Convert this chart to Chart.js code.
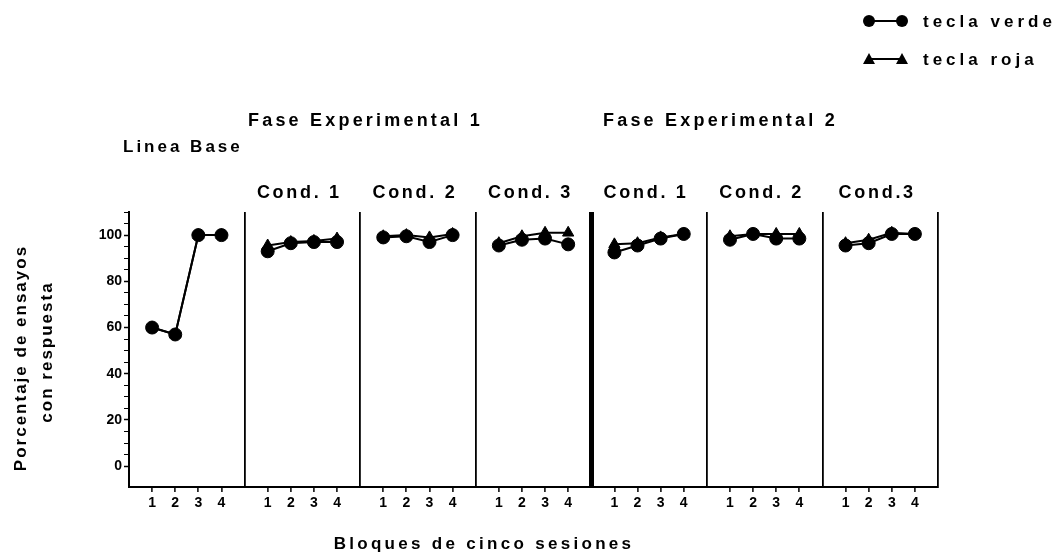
<!DOCTYPE html>
<html>
<head>
<meta charset="utf-8">
<script src="https://cdn.jsdelivr.net/npm/chart.js@4"></script>
<style>
  body { margin: 0; background: #fff; }
  #wrap { position: relative; width: 1062px; height: 557px; overflow: hidden; font-family: "Liberation Sans", Arial, sans-serif; font-weight: bold; color: #000; }
  #wrap canvas { position: absolute; left: 0; top: 0; }
  .lbl { position: absolute; white-space: nowrap; line-height: 1; }
  .c { transform: translateX(-50%); }
  .cond { font-size: 18px; letter-spacing: 2.7px; top: 183px; }
  .fase { font-size: 18px; letter-spacing: 3.2px; top: 111px; }
  .leg { font-size: 17px; letter-spacing: 4px; left: 923px; }
  .mk { position: absolute; left: 863px; width: 45px; height: 12px; }
  .mk .ln { position: absolute; left: 6px; right: 6px; top: 5px; border-top: 2px solid #000; }
  .dot { position: absolute; top: 0; width: 12px; height: 12px; border-radius: 50%; background: #000; }
  .tri { position: absolute; top: 0; width: 0; height: 0; border-left: 6px solid transparent; border-right: 6px solid transparent; border-bottom: 11px solid #000; }
  .ytitle { position: absolute; font-size: 17px; letter-spacing: 2px; transform: translate(-50%, -50%) rotate(-90deg); white-space: nowrap; }
</style>
</head>
<body>
<div id="wrap">
  <canvas id="chart" width="1062" height="557"></canvas>

  <div class="mk" style="top:15px"><div class="ln"></div><div class="dot" style="left:0"></div><div class="dot" style="right:0"></div></div>
  <div class="lbl leg" style="top:13px">tecla verde</div>
  <div class="mk" style="top:53px"><div class="ln"></div><div class="tri" style="left:0"></div><div class="tri" style="right:0"></div></div>
  <div class="lbl leg" style="top:51px">tecla roja</div>

  <div class="lbl fase" style="left:248px">Fase Experimental 1</div>
  <div class="lbl fase" style="left:603px">Fase Experimental 2</div>
  <div class="lbl" style="left:123px; top:138px; font-size:17px; letter-spacing:3px">Linea Base</div>

  <div id="conds"></div>

  <div class="ytitle" style="left:21px; top:358px">Porcentaje de ensayos</div>
  <div class="ytitle" style="left:47px; top:352px">con respuesta</div>
  <div class="lbl c" style="left:484px; top:535px; font-size:17px; letter-spacing:3.3px">Bloques de cinco sesiones</div>
</div>

<script>
// Data (percent of trials with response, per block of 5 sessions)
const blockLabels = ['1', '2', '3', '4'];
const condLabels = ['Cond. 1', 'Cond. 2', 'Cond. 3', 'Cond. 1', 'Cond. 2', 'Cond.3'];
const yTicks = [0, 20, 40, 60, 80, 100];

// one row per panel: Linea Base, FE1 Cond 1-3, FE2 Cond 1-3
const teclaVerde = [
    [60, 57, 100, 100],
    [93, 96.5, 97, 97],
    [99, 99.5, 97, 100],
    [95.5, 98, 98.5, 96],
    [92.5, 95.5, 98.5, 100.5],
    [98, 100.5, 98.5, 98.5],
    [95.5, 96.5, 100.5, 100.5]
];
const teclaRoja = [
    [60, 57, 100, 100],
    [95.5, 97, 97.5, 98.5],
    [99.5, 100, 99, 100.5],
    [96.5, 99.5, 101, 101],
    [96, 96.5, 99, 100.5],
    [99.5, 100.5, 100.5, 100.5],
    [96.5, 98, 101, 100.5]
];

const PANEL = 5; // x-units per panel

function toPoints(rows) {
    const pts = [];
    rows.forEach((row, p) => {
        row.forEach((v, i) => pts.push({ x: p * PANEL + i + 1, y: v }));
        pts.push({ x: p * PANEL + PANEL, y: null }); // break line between panels
    });
    return pts;
}

// condition labels centred over panels 2..7
const left = 129, right = 938;
const pw = (right - left) / teclaVerde.length;
const condBox = document.getElementById('conds');
condLabels.forEach((txt, i) => {
    const d = document.createElement('div');
    d.className = 'lbl cond c';
    d.style.left = (left + pw * (i + 1.5) - 3) + 'px';
    d.textContent = txt;
    condBox.appendChild(d);
});

const ctx = document.getElementById('chart').getContext('2d');
new Chart(ctx, {
    type: 'line',
    data: {
        datasets: [
            {
                label: 'tecla verde',
                data: toPoints(teclaVerde),
                borderColor: '#000',
                backgroundColor: '#000',
                borderWidth: 2,
                pointStyle: 'circle',
                pointRadius: 6.5,
                pointBorderWidth: 1,
                tension: 0,
                spanGaps: false
            },
            {
                label: 'tecla roja',
                data: toPoints(teclaRoja),
                borderColor: '#000',
                backgroundColor: '#000',
                borderWidth: 2,
                pointStyle: 'triangle',
                pointRadius: 6.5,
                pointBorderWidth: 1,
                tension: 0,
                spanGaps: false
            }
        ]
    },
    options: {
        responsive: false,
        animation: false,
        clip: false,
        layout: { autoPadding: false, padding: { left: 79, right: 124, top: 212, bottom: 40 } },
        plugins: { legend: { display: false }, tooltip: { enabled: false } },
        scales: {
            x: {
                type: 'linear',
                min: 0,
                max: teclaVerde.length * PANEL,
                afterFit: (s) => { s.height = 30; },
                afterBuildTicks: (s) => {
                    const t = [];
                    for (let v = 0; v <= teclaVerde.length * PANEL; v++) t.push({ value: v });
                    s.ticks = t;
                },
                border: { color: '#000', width: 2 },
                grid: {
                    drawOnChartArea: true,
                    color: (c) => (c.tick && c.tick.value % PANEL === 0) ? '#000' : 'rgba(0,0,0,0)',
                    lineWidth: (c) => (c.tick && c.tick.value === 4 * PANEL) ? 5 : 1.8,
                    tickColor: (c) => (c.tick && c.tick.value % PANEL === 0) ? 'rgba(0,0,0,0)' : '#000',
                    tickLength: 5,
                    tickWidth: 1.5
                },
                ticks: {
                    autoSkip: false,
                    maxRotation: 0,
                    padding: 3,
                    color: '#000',
                    font: { family: 'Liberation Sans', weight: 'bold', size: 14 },
                    callback: (v) => v % PANEL === 0 ? '' : blockLabels[(v % PANEL) - 1]
                }
            },
            y: {
                min: -9,
                max: 110,
                afterFit: (s) => { s.width = 50; },
                afterBuildTicks: (s) => {
                    const t = [];
                    for (let v = 0; v <= 110; v += 5) t.push({ value: v });
                    s.ticks = t;
                },
                border: { color: '#000', width: 2 },
                grid: {
                    drawOnChartArea: false,
                    tickLength: 5,
                    tickColor: '#000',
                    tickWidth: (c) => (c.tick && yTicks.includes(c.tick.value)) ? 1.5 : 1
                },
                ticks: {
                    autoSkip: false,
                    padding: 2,
                    color: '#000',
                    font: { family: 'Liberation Sans', weight: 'bold', size: 14 },
                    callback: (v) => yTicks.includes(v) ? String(v) : ''
                }
            }
        }
    }
});
</script>
</body>
</html>
